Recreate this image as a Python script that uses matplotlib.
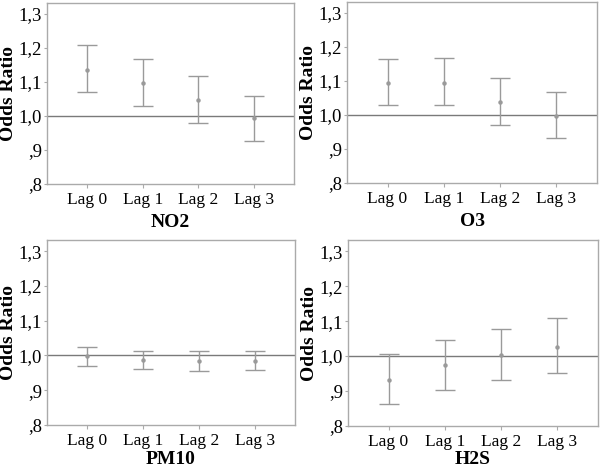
import matplotlib
matplotlib.use("Agg")
import matplotlib.pyplot as plt
import numpy as np

# Data
lags = ["Lag 0", "Lag 1", "Lag 2", "Lag 3"]

no2_or = [1.136, 1.096, 1.046, 0.993]
no2_lo = [1.070, 1.028, 0.978, 0.927]
no2_hi = [1.209, 1.168, 1.117, 1.060]

o3_or = [1.095, 1.095, 1.039, 0.997]
o3_lo = [1.029, 1.028, 0.971, 0.932]
o3_hi = [1.164, 1.168, 1.109, 1.066]

pm10_or = [0.998, 0.988, 0.983, 0.985]
pm10_lo = [0.971, 0.962, 0.956, 0.958]
pm10_hi = [1.024, 1.013, 1.012, 1.012]

h2s_or = [0.933, 0.974, 1.003, 1.026]
h2s_lo = [0.864, 0.904, 0.931, 0.951]
h2s_hi = [1.007, 1.046, 1.077, 1.109]

# name, values, axes box in pixels (left, top, right, bottom), xlabel offset
panels = [
    ("NO2", no2_or, no2_lo, no2_hi, [47, 3, 294, 184], 30),
    ("O3", o3_or, o3_lo, o3_hi, [347, 2, 597, 183], 30),
    ("PM10", pm10_or, pm10_lo, pm10_hi, [47, 240, 295, 425], 26),
    ("H2S", h2s_or, h2s_lo, h2s_hi, [348, 240, 598, 426], 25),
]

plt.rcParams["font.family"] = ["Liberation Serif", "DejaVu Serif"]

W, H = 600, 469
fig = plt.figure(figsize=(W / 100, H / 100), dpi=100, facecolor="white")

for name, orv, lo, hi, (x0, y0, x1, y1), xoff in panels:
    aw, ah = x1 - x0, y1 - y0
    ax = fig.add_axes([x0 / W, 1 - y1 / H, aw / W, ah / H])
    x = np.arange(len(lags))
    orv = np.array(orv)
    err = [orv - np.array(lo), np.array(hi) - orv]
    ax.axhline(1.0, color="#7a7a7a", lw=1.0, zorder=1)
    ax.errorbar(x, orv, yerr=err, fmt="o", ms=2.2, color="#9a9a9a",
                ecolor="#9a9a9a", elinewidth=1.0, capsize=7, capthick=1.0, zorder=2)
    ax.set_xlim(-0.72, 3.72)
    ax.set_ylim(0.8, 1.332)
    ax.set_xticks(x)
    ax.set_xticklabels(lags, fontsize=12.5)
    ax.set_yticks([0.8, 0.9, 1.0, 1.1, 1.2, 1.3])
    ax.set_yticklabels([",8", ",9", "1,0", "1,1", "1,2", "1,3"], fontsize=13.5)
    ax.tick_params(axis="x", length=3, color="#aaaaaa", pad=3)
    ax.tick_params(axis="y", length=2, color="#aaaaaa", pad=1.5)
    ax.set_ylabel("Odds Ratio", fontsize=14, fontweight="bold")
    ax.yaxis.set_label_coords(-30 / aw, 0.5)  # right edge of rotated label
    ax.set_xlabel(name, fontsize=14, fontweight="bold")
    ax.xaxis.set_label_coords(0.5, -xoff / ah)
    for sp in ax.spines.values():
        sp.set_color("#aaaaaa")
        sp.set_linewidth(1.0)

fig.savefig("out.png", dpi=100, facecolor="white")
